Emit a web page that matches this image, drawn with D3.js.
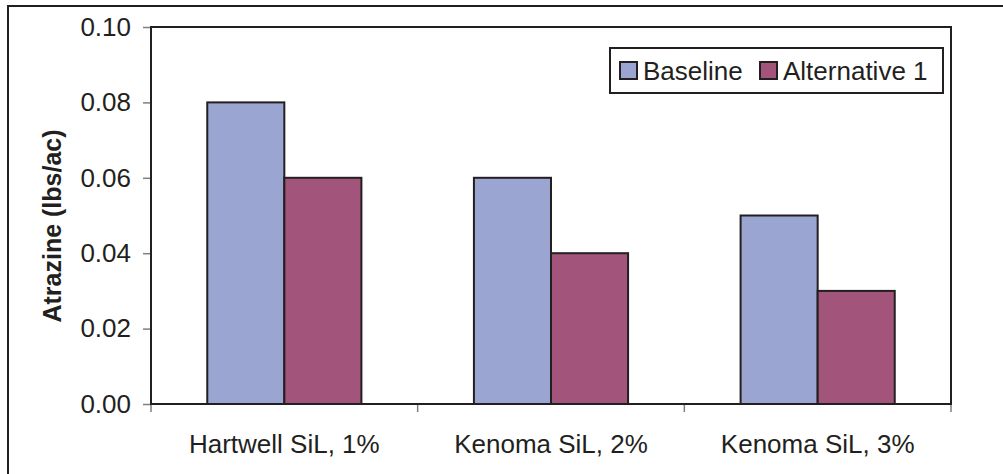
<!DOCTYPE html>
<html>
<head>
<meta charset="utf-8">
<script src="https://cdn.jsdelivr.net/npm/d3@7"></script>
<style>
  html, body { margin: 0; padding: 0; background: #fff; }
  svg { display: block; font-family: Arial, "Liberation Sans", sans-serif; }
</style>
</head>
<body>
<svg id="chart" width="1003" height="474"></svg>
<script>
// Atrazine loss by soil, baseline vs. alternative 1
const categories = ["Hartwell SiL, 1%", "Kenoma SiL, 2%", "Kenoma SiL, 3%"];
const seriesNames = ["Baseline", "Alternative 1"];
const baselineValues = [0.08, 0.06, 0.05];
const alternativeValues = [0.06, 0.04, 0.03];
const yTicks = [0.00, 0.02, 0.04, 0.06, 0.08, 0.10];
const seriesColors = ["#9aa5d2", "#a2547a"];

const seriesValues = [baselineValues, alternativeValues];
const ink = "#231f20";

const svg = d3.select("#chart");
const plot = { left: 151, right: 951, top: 27, bottom: 404 };

// outer chart frame (runs off the right and bottom edges)
svg.append("rect")
  .attr("x", 8).attr("y", 6)
  .attr("width", 1010).attr("height", 490)
  .attr("fill", "none").attr("stroke", ink).attr("stroke-width", 2);

const x0 = d3.scaleBand().domain(categories).range([plot.left, plot.right]).padding(0);
const x1 = d3.scaleBand().domain(seriesNames).range([0, x0.bandwidth()]).paddingInner(0).paddingOuter(0.73);
const y = d3.scaleLinear().domain([0, 0.10]).range([plot.bottom, plot.top]);

// y axis ticks and labels
const yAxis = d3.axisLeft(y).tickValues(yTicks).tickFormat(d3.format(".2f")).tickSize(8).tickPadding(12);
const gy = svg.append("g").attr("transform", `translate(${plot.left},0)`).call(yAxis);
gy.select(".domain").remove();
gy.selectAll(".tick line").attr("stroke", "#7f7f7f").attr("stroke-width", 1.5);
gy.selectAll(".tick text").attr("font-size", 26).attr("fill", ink)
  .attr("font-family", "Arial, 'Liberation Sans', sans-serif");

// x axis: ticks on group boundaries
const boundaries = categories.map(c => x0(c)).concat([plot.right]);
svg.append("g").selectAll("line").data(boundaries).join("line")
  .attr("x1", d => d).attr("x2", d => d)
  .attr("y1", plot.bottom).attr("y2", plot.bottom + 8)
  .attr("stroke", "#7f7f7f").attr("stroke-width", 1.5);

svg.append("g").selectAll("text").data(categories).join("text")
  .attr("x", d => x0(d) + x0.bandwidth() / 2)
  .attr("y", 453)
  .attr("text-anchor", "middle")
  .attr("font-size", 26)
  .attr("fill", ink)
  .text(d => d);

// bars
const groups = svg.append("g").selectAll("g").data(categories).join("g")
  .attr("transform", d => `translate(${x0(d)},0)`);
groups.selectAll("rect")
  .data((c, i) => seriesNames.map((s, k) => ({ s, k, v: seriesValues[k][i] })))
  .join("rect")
  .attr("x", d => x1(d.s))
  .attr("y", d => y(d.v))
  .attr("width", x1.bandwidth())
  .attr("height", d => y(0) - y(d.v))
  .attr("fill", d => seriesColors[d.k])
  .attr("stroke", ink)
  .attr("stroke-width", 2);

// plot area frame
svg.append("rect")
  .attr("x", plot.left).attr("y", plot.top)
  .attr("width", plot.right - plot.left).attr("height", plot.bottom - plot.top)
  .attr("fill", "none").attr("stroke", ink).attr("stroke-width", 2);

// y axis title
svg.append("text")
  .attr("transform", "translate(61,226) rotate(-90)")
  .attr("text-anchor", "middle")
  .attr("font-size", 25)
  .attr("font-weight", "bold")
  .attr("fill", ink)
  .text("Atrazine (lbs/ac)");

// legend
const legend = svg.append("g");
legend.append("rect")
  .attr("x", 610).attr("y", 48).attr("width", 333).attr("height", 45)
  .attr("fill", "#fff").attr("stroke", ink).attr("stroke-width", 2);
const legendX = [620, 760];
seriesNames.forEach((name, k) => {
  legend.append("rect")
    .attr("x", legendX[k]).attr("y", 62).attr("width", 17).attr("height", 17)
    .attr("fill", seriesColors[k]).attr("stroke", ink).attr("stroke-width", 2);
  legend.append("text")
    .attr("x", legendX[k] + 23).attr("y", 80)
    .attr("font-size", 26).attr("fill", ink)
    .text(name);
});
</script>
</body>
</html>
